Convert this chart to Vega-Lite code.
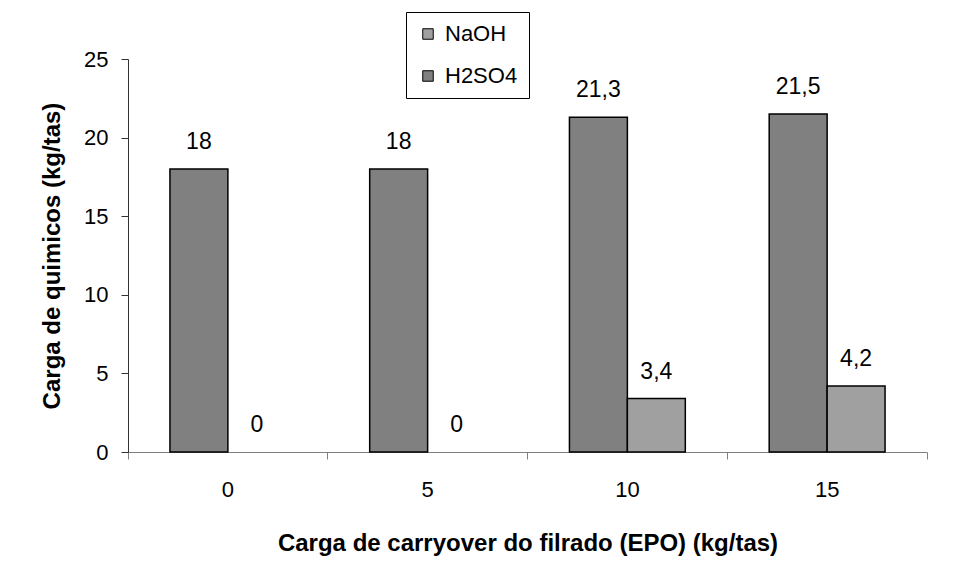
{
  "$schema": "https://vega.github.io/schema/vega-lite/v6.json",
  "width": 799,
  "height": 393,
  "autosize": {"type": "none"},
  "padding": {"left": 128, "top": 59, "right": 29, "bottom": 123},
  "background": "white",
  "config": {
    "font": "Liberation Sans",
    "locale": {"number": {"decimal": ",", "thousands": ".", "grouping": [3], "currency": ["", " €"]}},
    "view": {"stroke": null},
    "axis": {"grid": false, "labelColor": "black", "titleColor": "black", "domainColor": "#333333", "tickColor": "#333333", "labelFont": "Liberation Sans", "titleFont": "Liberation Sans"}
  },
  "data": {
    "values": [
      {"carryover": "0", "quimico": "H2SO4", "carga": 18},
      {"carryover": "0", "quimico": "NaOH", "carga": 0},
      {"carryover": "5", "quimico": "H2SO4", "carga": 18},
      {"carryover": "5", "quimico": "NaOH", "carga": 0},
      {"carryover": "10", "quimico": "H2SO4", "carga": 21.3},
      {"carryover": "10", "quimico": "NaOH", "carga": 3.4},
      {"carryover": "15", "quimico": "H2SO4", "carga": 21.5},
      {"carryover": "15", "quimico": "NaOH", "carga": 4.2}
    ]
  },
  "encoding": {
    "x": {
      "field": "carryover",
      "type": "nominal",
      "sort": ["0", "5", "10", "15"],
      "scale": {"paddingInner": 0, "paddingOuter": 0},
      "axis": {
        "title": "Carga de carryover do filrado (EPO) (kg/tas)",
        "labelAngle": 0,
        "bandPosition": 1,
        "tickExtra": true,
        "labelOffset": 0,
        "tickSize": 7,
        "labelPadding": 20,
        "labelFontSize": 22,
        "titleFontSize": 24,
        "titleFontWeight": "bold",
        "titlePadding": 31,
        "domainColor": "#808080",
        "tickColor": "#808080"
      }
    },
    "xOffset": {
      "field": "quimico",
      "type": "nominal",
      "sort": ["H2SO4", "NaOH"],
      "scale": {"paddingInner": 0, "paddingOuter": 0.724}
    },
    "y": {
      "field": "carga",
      "type": "quantitative",
      "scale": {"domain": [0, 25]},
      "axis": {
        "title": "Carga de quimicos (kg/tas)",
        "values": [0, 5, 10, 15, 20, 25],
        "tickSize": 7,
        "labelPadding": 13,
        "labelFontSize": 22,
        "titleFontSize": 24,
        "titleFontWeight": "bold",
        "titlePadding": 19
      }
    }
  },
  "layer": [
    {
      "mark": {"type": "bar", "stroke": "black", "strokeWidth": 1.5},
      "encoding": {
        "color": {
          "field": "quimico",
          "type": "nominal",
          "scale": {"domain": ["NaOH", "H2SO4"], "range": ["#A0A0A0", "#808080"]},
          "legend": {
            "title": null,
            "orient": "none",
            "legendX": 278,
            "legendY": -47,
            "strokeColor": "black",
            "fillColor": "white",
            "padding": 11,
            "symbolType": "square",
            "symbolSize": 110,
            "symbolStrokeColor": "black",
            "symbolStrokeWidth": 1,
            "symbolOpacity": 1,
            "labelFontSize": 22,
            "labelColor": "black",
            "labelOffset": 6,
            "rowPadding": 20
          }
        },
        "strokeOpacity": {"condition": {"test": "datum.carga == 0", "value": 0}, "value": 1}
      }
    },
    {
      "mark": {"type": "text", "dy": -20, "baseline": "alphabetic", "fontSize": 23, "color": "black"},
      "encoding": {
        "text": {"field": "carga", "type": "quantitative", "format": ".1~f"}
      }
    }
  ]
}
